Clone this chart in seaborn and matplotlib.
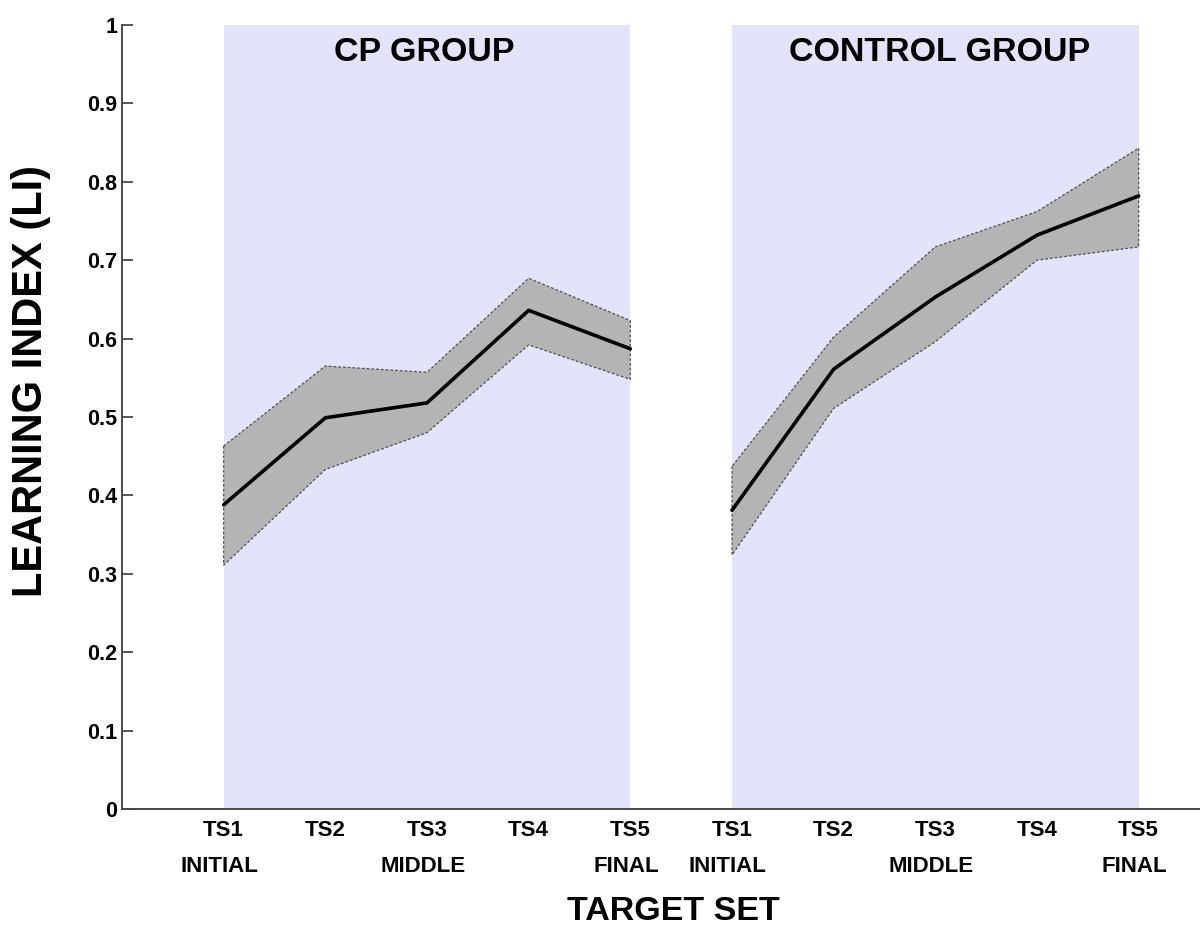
import numpy as np
import pandas as pd
import matplotlib
matplotlib.use("Agg")
import matplotlib.pyplot as plt
import matplotlib.transforms as mtransforms
import seaborn as sns

sns.set_style("white")
plt.rcParams["font.family"] = ["Liberation Sans", "DejaVu Sans"]
plt.rcParams["font.weight"] = "bold"
plt.rcParams["text.color"] = "black"
plt.rcParams["xtick.labelcolor"] = "black"
plt.rcParams["ytick.labelcolor"] = "black"

# --- data ---
set_labels = ["TS1", "TS2", "TS3", "TS4", "TS5"]
phase_labels = ["INITIAL", "", "MIDDLE", "", "FINAL"]
groups = ["CP GROUP", "CONTROL GROUP"]

cp_mean = [0.388, 0.499, 0.518, 0.636, 0.587]
cp_upper = [0.463, 0.565, 0.557, 0.677, 0.623]
cp_lower = [0.311, 0.433, 0.480, 0.592, 0.548]

ctrl_mean = [0.381, 0.561, 0.653, 0.732, 0.782]
ctrl_upper = [0.437, 0.602, 0.717, 0.762, 0.843]
ctrl_lower = [0.324, 0.511, 0.596, 0.700, 0.717]

cp_x = np.arange(1, 6)
ctrl_x = np.arange(6, 11)

W, H = 1200, 935
fig = plt.figure(figsize=(W / 100, H / 100), dpi=100)
ax = fig.add_axes([122 / W, 1 - 809 / H, (W - 122) / W, (809 - 25) / H])

spine_col = "#4a4a4a"
panel_col = "#e3e3fb"
band_col = "#b4b4b4"

series = [
    (groups[0], cp_x, cp_mean, cp_upper, cp_lower, -0.03),
    (groups[1], ctrl_x, ctrl_mean, ctrl_upper, ctrl_lower, 0.04),
]

for name, xs, mean, up, lo, shift in series:
    # lavender panel behind each group
    ax.axvspan(xs[0], xs[-1], ymin=0, ymax=1, color=panel_col, lw=0, zorder=0)
    ax.fill_between(xs, lo, up, facecolor=band_col, edgecolor="#505050",
                    linestyle=(0, (2.2, 1.6)), linewidth=0.9, zorder=2)
    df = pd.DataFrame({"x": xs, "li": mean})
    sns.lineplot(data=df, x="x", y="li", color="black", linewidth=2.6,
                 ax=ax, zorder=3)
    ax.text((xs[0] + xs[-1]) / 2 + shift, 0.965, name, ha="center", va="center",
            fontsize=24.5, fontweight="bold", color="black", zorder=4)

unit = (1138 - 223) / 9
ax.set_xlim(0, (W - 122) / unit)
ax.set_ylim(0, 1)

# y axis
yt = np.round(np.arange(0, 1.01, 0.1), 1)
ax.set_yticks(yt)
ax.set_yticklabels(["0" if v == 0 else ("1" if v == 1 else f"{v:.1f}") for v in yt],
                   fontsize=15.5, fontweight="bold")
ax.tick_params(axis="y", direction="in", length=8, width=1.3, color=spine_col,
               pad=3.5, left=True)

# x axis: labels under each target set, tick marks only at group ends
all_x = np.concatenate([cp_x, ctrl_x])
ax.set_xticks(all_x)
ax.set_xticklabels(set_labels * 2, fontsize=16, fontweight="bold")
ax.tick_params(axis="x", length=0, pad=8)
ax.set_xticks([cp_x[-1], ctrl_x[-1]], minor=True)
ax.tick_params(axis="x", which="minor", direction="in", length=8, width=1.3,
               color=spine_col, bottom=True)

trans = mtransforms.blended_transform_factory(ax.transData, fig.transFigure)
for xv, ph in zip(all_x, phase_labels * 2):
    if ph:
        ax.text(xv - 0.04, 1 - 866 / H, ph, transform=trans, ha="center",
                va="center", fontsize=16, fontweight="bold")

for side in ["top", "right"]:
    ax.spines[side].set_visible(False)
for side in ["left", "bottom"]:
    ax.spines[side].set_color(spine_col)
    ax.spines[side].set_linewidth(1.4)
    ax.spines[side].set_zorder(5)

ax.set_xlabel("")
ax.set_ylabel("")
fig.text(673 / W, 1 - 912 / H, "TARGET SET", ha="center", va="center",
         fontsize=24.5, fontweight="bold")
fig.text(31 / W, 1 - 381 / H, "LEARNING INDEX (LI)", ha="center", va="center",
         rotation=90, fontsize=30, fontweight="bold")

fig.savefig("out.png", dpi=100, facecolor="white")
